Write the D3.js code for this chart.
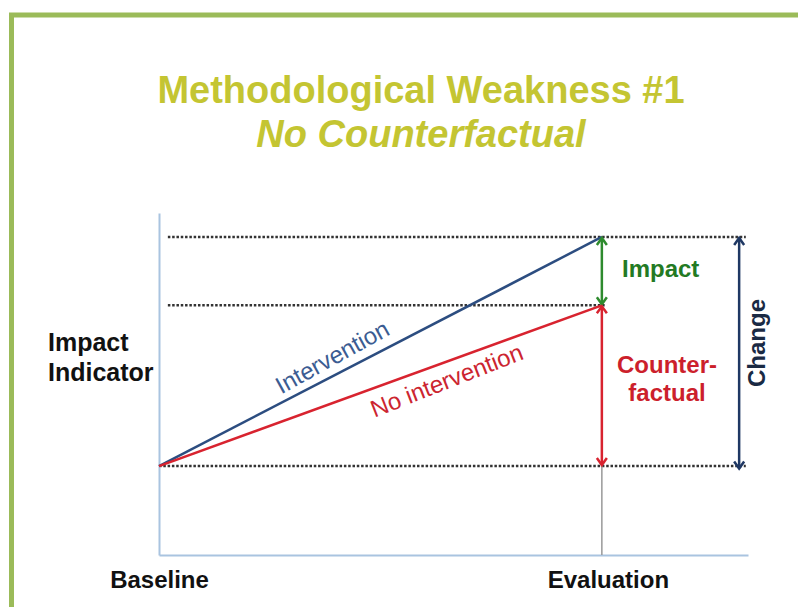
<!DOCTYPE html>
<html lang="en">
<head>
  <meta charset="UTF-8" />
  <title>Methodological Weakness #1</title>
  <script src="https://d3js.org/d3.v7.min.js"></script>
  <style>
    body { margin: 0; background: #fff; }
    svg text { font-family: "Liberation Sans", Arial, sans-serif; }
  </style>
</head>
<body>
  <svg width="798" height="607" id="svgCanvas"></svg>

  <script>
    // data
    const stages = ["Baseline", "Evaluation"];
    const intervention = [2.6, 9.3];
    const noIntervention = [2.6, 7.3];
    const titleLines = ["Methodological Weakness #1", "No Counterfactual"];
    const yLabel = ["Impact", "Indicator"];

    const svg = d3.select("#svgCanvas");
    const width = 798;
    const height = 607;

    const x = d3.scaleLinear().domain([0, 1.33]).range([159, 748]);
    const y = d3.scaleLinear().domain([0, 10]).range([555, 213]);

    // green frame
    svg.append("rect")
      .attr("x", 11.5).attr("y", 15)
      .attr("width", 820).attr("height", 700)
      .attr("fill", "none")
      .attr("stroke", "#9bbb59")
      .attr("stroke-width", 5);

    // title
    svg.selectAll("text.title")
      .data(titleLines)
      .enter()
      .append("text")
      .attr("class", "title")
      .attr("x", 421)
      .attr("y", (d, i) => 103 + i * 44)
      .attr("text-anchor", "middle")
      .attr("font-size", 38)
      .attr("font-weight", "bold")
      .attr("font-style", (d, i) => i === 1 ? "italic" : "normal")
      .attr("fill", "#c4c532")
      .text(d => d);

    // dotted guide lines
    const guides = [
      { v: intervention[1], x0: 0.02, x1: 1.325 },
      { v: noIntervention[1], x0: 0.02, x1: 1.01 },
      { v: intervention[0], x0: 0, x1: 1.325 }
    ];
    svg.selectAll("line.guide")
      .data(guides)
      .enter()
      .append("line")
      .attr("class", "guide")
      .attr("x1", d => x(d.x0)).attr("x2", d => x(d.x1))
      .attr("y1", d => y(d.v)).attr("y2", d => y(d.v))
      .attr("stroke", "#333")
      .attr("stroke-width", 2.5)
      .attr("stroke-dasharray", "2.5,1.8");

    // axes
    const xAxis = svg.append("g")
      .attr("transform", `translate(0,${y(0)})`)
      .call(d3.axisBottom(x).tickValues([0, 1]).tickFormat((d, i) => stages[i]).tickSize(0).tickSizeOuter(0).tickPadding(16));
    xAxis.select(".domain").attr("stroke", "#a9c4e0").attr("stroke-width", 2);
    xAxis.selectAll(".tick text")
      .attr("font-size", 24)
      .attr("font-weight", "bold")
      .attr("fill", "#111")
      .attr("dx", (d, i) => i === 1 ? 6 : 0);

    const yAxis = svg.append("g")
      .attr("transform", `translate(${x(0)},0)`)
      .call(d3.axisLeft(y).tickValues([]).tickSizeOuter(0));
    yAxis.select(".domain").attr("stroke", "#a9c4e0").attr("stroke-width", 2);

    svg.selectAll("text.ylabel")
      .data(yLabel)
      .enter()
      .append("text")
      .attr("class", "ylabel")
      .attr("x", 48)
      .attr("y", (d, i) => 351 + i * 30)
      .attr("font-size", 25)
      .attr("font-weight", "bold")
      .attr("fill", "#111")
      .text(d => d);

    // evaluation marker
    svg.append("line")
      .attr("x1", x(1)).attr("x2", x(1))
      .attr("y1", y(noIntervention[1])).attr("y2", y(0))
      .attr("stroke", "#999")
      .attr("stroke-width", 1.5);

    // series lines
    const line = d3.line().x((d, i) => x(i)).y(d => y(d));
    const series = [
      { name: "Intervention", values: intervention, color: "#2c4d80", text: "#3b5c92" },
      { name: "No intervention", values: noIntervention, color: "#d8232f", text: "#cc2530" }
    ];
    svg.selectAll("path.series")
      .data(series)
      .enter()
      .append("path")
      .attr("class", "series")
      .attr("d", d => line(d.values))
      .attr("fill", "none")
      .attr("stroke", d => d.color)
      .attr("stroke-width", 2.5);

    // labels along lines
    const labelPos = [0.41, 0.635];
    series.forEach((s, k) => {
      const t = labelPos[k];
      const px = x(t);
      const py = y(s.values[0] + (s.values[1] - s.values[0]) * t);
      const ang = Math.atan2(y(s.values[1]) - y(s.values[0]), x(1) - x(0)) * 180 / Math.PI;
      svg.append("text")
        .attr("transform", `translate(${px},${py}) rotate(${ang - 1.5})`)
        .attr("y", k === 0 ? -9 : 26)
        .attr("text-anchor", "middle")
        .attr("font-size", 24)
        .attr("fill", s.text)
        .text(s.name);
    });

    // double-headed arrows
    const arrows = [
      { at: 1, from: intervention[1], to: noIntervention[1], color: "#2e8b2e" },
      { at: 1, from: noIntervention[1], to: noIntervention[0], color: "#d8232f" },
      { at: 1.31, from: intervention[1], to: intervention[0] - 0.1, color: "#1f3864" }
    ];
    arrows.forEach(a => {
      const ax = x(a.at), ya = y(a.from), yb = y(a.to);
      const g = svg.append("g").attr("stroke", a.color).attr("stroke-width", 2.5).attr("fill", "none");
      g.append("line").attr("x1", ax).attr("x2", ax).attr("y1", ya + 1).attr("y2", yb - 1);
      g.append("path").attr("d", `M${ax - 5},${ya + 8}L${ax},${ya + 1}L${ax + 5},${ya + 8}`);
      g.append("path").attr("d", `M${ax - 5},${yb - 8}L${ax},${yb - 1}L${ax + 5},${yb - 8}`);
    });

    // arrow labels
    svg.append("text")
      .attr("x", 622).attr("y", 277)
      .attr("font-size", 24).attr("font-weight", "bold")
      .attr("fill", "#237a23")
      .text("Impact");

    svg.selectAll("text.cf")
      .data(["Counter-", "factual"])
      .enter()
      .append("text")
      .attr("class", "cf")
      .attr("x", 667)
      .attr("y", (d, i) => 373 + i * 28)
      .attr("text-anchor", "middle")
      .attr("font-size", 24).attr("font-weight", "bold")
      .attr("fill", "#cc1f2c")
      .text(d => d);

    svg.append("text")
      .attr("transform", "translate(765,343) rotate(-90)")
      .attr("text-anchor", "middle")
      .attr("font-size", 24).attr("font-weight", "bold")
      .attr("fill", "#1a2a44")
      .text("Change");
  </script>
</body>
</html>
